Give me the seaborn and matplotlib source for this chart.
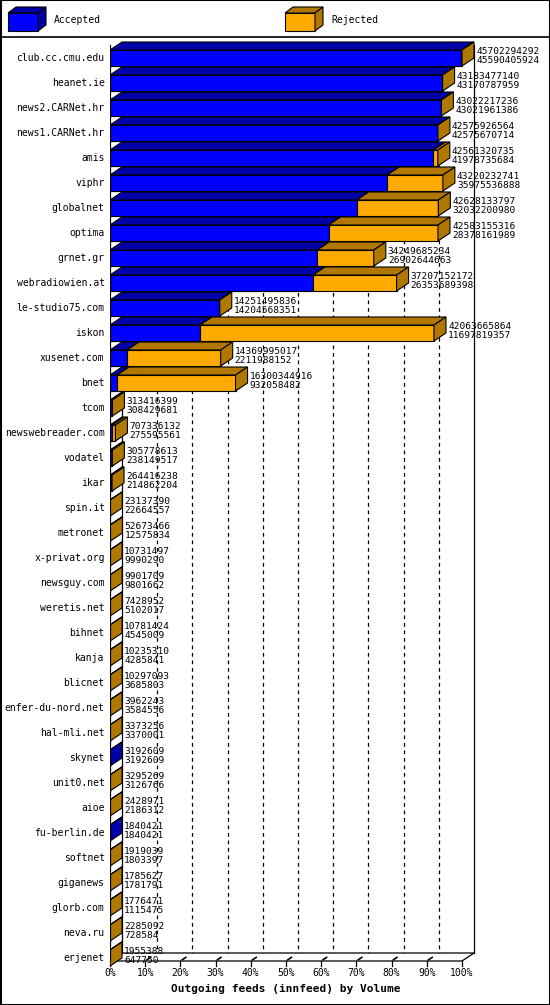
import matplotlib
matplotlib.use("Agg")
import matplotlib.pyplot as plt
from matplotlib.patches import Polygon, Rectangle
import numpy as np
import pandas as pd
import seaborn as sns

feeds = ["club.cc.cmu.edu", "heanet.ie", "news2.CARNet.hr", "news1.CARNet.hr", "amis",
         "viphr", "globalnet", "optima", "grnet.gr", "webradiowien.at", "le-studio75.com",
         "iskon", "xusenet.com", "bnet", "tcom", "newswebreader.com", "vodatel", "ikar",
         "spin.it", "metronet", "x-privat.org", "newsguy.com", "weretis.net", "bihnet",
         "kanja", "blicnet", "enfer-du-nord.net", "hal-mli.net", "skynet", "unit0.net",
         "aioe", "fu-berlin.de", "softnet", "giganews", "glorb.com", "neva.ru", "erjenet"]
offered = [45702294292, 43183477140, 43022217236, 42575926564, 42561320735,
           43220232741, 42628133797, 42583155316, 34249685234, 37207152172, 14251495836,
           42063665864, 14369995017, 16300344916, 313416399, 707336132, 305778613, 264416238,
           23137390, 52673466, 10731497, 9901709, 7428952, 10781424,
           10235310, 10297093, 3962243, 3373256, 3192609, 3295269,
           2428971, 1840421, 1919039, 1785627, 1776471, 2285092, 1955388]
accepted = [45590405924, 43170787959, 43021961386, 42575670714, 41978735684,
            35975536888, 32032200980, 28378161989, 26902644663, 26353689398, 14204568351,
            11697819357, 2211988152, 932058482, 308429681, 275595561, 238149517, 214862204,
            22664557, 12575834, 9990290, 9801662, 5102017, 4545009,
            4285841, 3685803, 3584556, 3370001, 3192609, 3126766,
            2186312, 1840421, 1803397, 1781791, 1115475, 728584, 647750]
ticks = [0, 10, 20, 30, 40, 50, 60, 70, 80, 90, 100]

BLUE, BLUE_D = "#0000ff", "#0000a8"
ORANGE, ORANGE_D = "#ffaa00", "#b07800"

mx = max(offered)
df = pd.DataFrame({"feed": feeds,
                   "tot": [v / mx * 100 for v in offered],
                   "acc": [v / mx * 100 for v in accepted]})

W, H = 550, 1005
fig = plt.figure(figsize=(W / 100, H / 100), dpi=100)
px = 3.52          # pixels per percent
row = 25.0         # pixels per row
top0 = 58          # centre of first row (px)
ax_l, ax_r, ax_t, ax_b = 110, 548, 40, 975
ax = fig.add_axes([ax_l / W, 1 - ax_b / H, (ax_r - ax_l) / W, (ax_b - ax_t) / H])
sns.barplot(data=df, y="feed", x="tot", color=ORANGE, orient="h", width=0.64,
            saturation=1, edgecolor="black", linewidth=0.8, ax=ax, zorder=3)
sns.barplot(data=df, y="feed", x="acc", color=BLUE, orient="h", width=0.64,
            saturation=1, edgecolor="black", linewidth=0.8, ax=ax, zorder=4)
ax.set_xlim(0, (ax_r - ax_l) / px)
ax.set_ylim((ax_b - top0) / row, (ax_t - top0) / row)
ax.axis("off")

dx = 12 / px
dy = 8 / row
n = len(feeds)
floor = n - 1 + 0.12

# back wall grid
for t in ticks[1:]:
    ax.plot([t + dx, t + dx], [(ax_t + 5 - top0) / row, floor - dy],
            color="black", lw=0.9, ls=(0, (3, 3)) if t < 100 else "-", zorder=1)
ax.plot([dx, dx], [(ax_t + 5 - top0) / row, floor - dy], color="black", lw=0.9, zorder=1)
ax.plot([0, 0], [(ax_t + 5 - top0) / row, floor], color="black", lw=0.9, zorder=6)
# floor
ax.plot([0, 100, 100 + dx, dx, 0], [floor, floor, floor - dy, floor - dy, floor],
        color="black", lw=0.9, zorder=2)
for t in ticks:
    ax.plot([t, t], [floor, floor + 0.2], color="black", lw=0.9, clip_on=False)
    if 0 < t < 100:
        ax.plot([t + dx * 0.15, t + dx * 0.45], [floor - dy * 0.15, floor - dy * 0.45],
                color="black", lw=1.2, zorder=2)
    ax.text(t, floor + 0.3, f"{t}%", ha="center", va="top", fontsize=7,
            family="DejaVu Sans Mono")
ax.text(50, floor + 0.9, "Outgoing feeds (innfeed) by Volume", ha="center", va="top",
        fontsize=8, family="DejaVu Sans Mono", weight="bold")

# 3D faces
for i, (tot, acc) in enumerate(zip(df["tot"], df["acc"])):
    y0, y1 = i - 0.32, i + 0.32
    segs = [(0, acc, BLUE_D), (acc, tot, ORANGE_D)]
    for a, b, c in segs:
        if b - a <= 0:
            continue
        ax.add_patch(Polygon([(a, y0), (b, y0), (b + dx, y0 - dy), (a + dx, y0 - dy)],
                             closed=True, fc=c, ec="black", lw=0.8, zorder=5))
    side = ORANGE_D if tot > acc else BLUE_D
    ax.add_patch(Polygon([(tot, y0), (tot + dx, y0 - dy), (tot + dx, y1 - dy), (tot, y1)],
                         closed=True, fc=side, ec="black", lw=0.8, zorder=5))
    ax.text(tot + dx + 0.6, i - 0.08, f"{offered[i]}\n{accepted[i]}", ha="left",
            va="center", fontsize=6.8, family="DejaVu Sans Mono", linespacing=0.95, zorder=7)
    ax.text(-1.5, i, feeds[i], ha="right", va="center", fontsize=7,
            family="DejaVu Sans Mono")

# frame and legend
fig.add_artist(Rectangle((0.5 / W, 0.5 / H), 1 - 1 / W, 1 - 1 / H, transform=fig.transFigure,
                         fill=False, ec="black", lw=1.5))
fig.add_artist(plt.Line2D([0, 1], [1 - 37 / H, 1 - 37 / H], color="black", lw=1.2))
for x0, c, cd, lab in [(8, BLUE, BLUE_D, "Accepted"), (285, ORANGE, ORANGE_D, "Rejected")]:
    fx = lambda p: p / W
    fy = lambda p: 1 - p / H
    fig.add_artist(Polygon([(fx(x0), fy(31)), (fx(x0 + 30), fy(31)), (fx(x0 + 30), fy(13)),
                            (fx(x0), fy(13))], closed=True, fc=c, ec="black", lw=0.8,
                           transform=fig.transFigure))
    fig.add_artist(Polygon([(fx(x0), fy(13)), (fx(x0 + 30), fy(13)), (fx(x0 + 38), fy(7)),
                            (fx(x0 + 8), fy(7))], closed=True, fc=cd, ec="black", lw=0.8,
                           transform=fig.transFigure))
    fig.add_artist(Polygon([(fx(x0 + 30), fy(31)), (fx(x0 + 38), fy(25)), (fx(x0 + 38), fy(7)),
                            (fx(x0 + 30), fy(13))], closed=True, fc=cd, ec="black", lw=0.8,
                           transform=fig.transFigure))
    fig.text(fx(x0 + 46), fy(20), lab, ha="left", va="center", fontsize=7,
             family="DejaVu Sans Mono")

fig.savefig("out.png", dpi=100)
